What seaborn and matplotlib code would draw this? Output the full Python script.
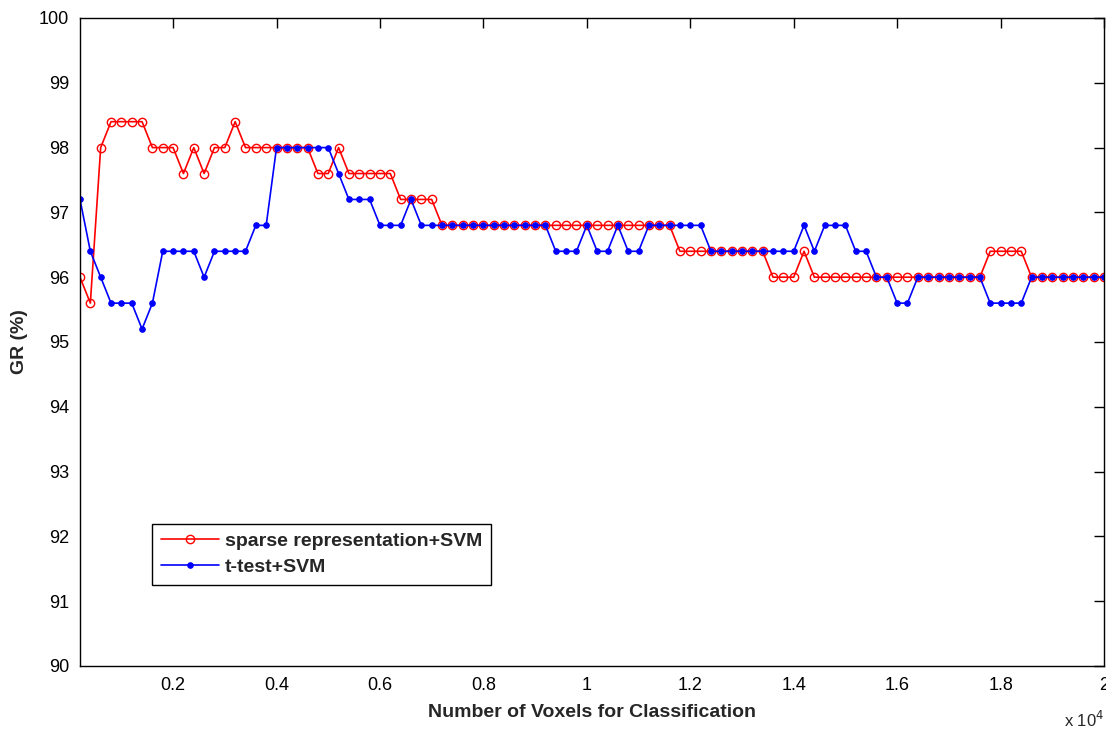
import numpy as np
import pandas as pd
import matplotlib
matplotlib.use("Agg")
import matplotlib.pyplot as plt
import seaborn as sns
from matplotlib import font_manager

# ---------------- data ----------------
voxels = np.arange(200, 20001, 200)  # x grid: 200 ... 20000

sparse_svm = [
    96.0, 95.6, 98.0, 98.4, 98.4, 98.4, 98.4, 98.0, 98.0, 98.0,
    97.6, 98.0, 97.6, 98.0, 98.0, 98.4, 98.0, 98.0, 98.0, 98.0,
    98.0, 98.0, 98.0, 97.6, 97.6, 98.0, 97.6, 97.6, 97.6, 97.6,
    97.6, 97.2, 97.2, 97.2, 97.2, 96.8, 96.8, 96.8, 96.8, 96.8,
    96.8, 96.8, 96.8, 96.8, 96.8, 96.8, 96.8, 96.8, 96.8, 96.8,
    96.8, 96.8, 96.8, 96.8, 96.8, 96.8, 96.8, 96.8, 96.4, 96.4,
    96.4, 96.4, 96.4, 96.4, 96.4, 96.4, 96.4, 96.0, 96.0, 96.0,
    96.4, 96.0, 96.0, 96.0, 96.0, 96.0, 96.0, 96.0, 96.0, 96.0,
    96.0, 96.0, 96.0, 96.0, 96.0, 96.0, 96.0, 96.0, 96.4, 96.4,
    96.4, 96.4, 96.0, 96.0, 96.0, 96.0, 96.0, 96.0, 96.0, 96.0,
]

ttest_svm = [
    97.2, 96.4, 96.0, 95.6, 95.6, 95.6, 95.2, 95.6, 96.4, 96.4,
    96.4, 96.4, 96.0, 96.4, 96.4, 96.4, 96.4, 96.8, 96.8, 98.0,
    98.0, 98.0, 98.0, 98.0, 98.0, 97.6, 97.2, 97.2, 97.2, 96.8,
    96.8, 96.8, 97.2, 96.8, 96.8, 96.8, 96.8, 96.8, 96.8, 96.8,
    96.8, 96.8, 96.8, 96.8, 96.8, 96.8, 96.4, 96.4, 96.4, 96.8,
    96.4, 96.4, 96.8, 96.4, 96.4, 96.8, 96.8, 96.8, 96.8, 96.8,
    96.8, 96.4, 96.4, 96.4, 96.4, 96.4, 96.4, 96.4, 96.4, 96.4,
    96.8, 96.4, 96.8, 96.8, 96.8, 96.4, 96.4, 96.0, 96.0, 95.6,
    95.6, 96.0, 96.0, 96.0, 96.0, 96.0, 96.0, 96.0, 95.6, 95.6,
    95.6, 95.6, 96.0, 96.0, 96.0, 96.0, 96.0, 96.0, 96.0, 96.0,
]

series_names = ["sparse representation+SVM", "t-test+SVM"]
x_ticks = [2000, 4000, 6000, 8000, 10000, 12000, 14000, 16000, 18000, 20000]
x_tick_labels = ["0.2", "0.4", "0.6", "0.8", "1", "1.2", "1.4", "1.6", "1.8", "2"]
y_ticks = [90, 91, 92, 93, 94, 95, 96, 97, 98, 99, 100]

# ---------------- style ----------------
sns.set_style("white")
avail = {f.name for f in font_manager.fontManager.ttflist}
narrow = "Liberation Sans Narrow" if "Liberation Sans Narrow" in avail else "Liberation Sans"
plt.rcParams["font.family"] = [narrow, "DejaVu Sans"]

fig = plt.figure(figsize=(11.06, 7.29), dpi=100)
ax = fig.add_axes([80 / 1106, 63 / 729, 1024 / 1106, 648 / 729])

sns.lineplot(x=voxels, y=sparse_svm, ax=ax, color="#ff0000", lw=1.2,
             marker="o", markersize=6, markerfacecolor="none",
             markeredgecolor="#ff0000", markeredgewidth=1.0,
             label=series_names[0])
sns.lineplot(x=voxels, y=ttest_svm, ax=ax, color="#0000ff", lw=1.2,
             marker="o", markersize=4, markerfacecolor="#0000ff",
             markeredgecolor="#0000ff", label=series_names[1])

ax.set_xlim(200, 20000)
ax.set_ylim(90, 100)
ax.set_xticks(x_ticks)
ax.set_xticklabels(x_tick_labels)
ax.set_yticks(y_ticks)
ax.tick_params(axis="both", direction="in", length=7, width=1.0,
               top=True, right=True, labelsize=13, colors="black", pad=8)
for s in ax.spines.values():
    s.set_visible(True)
    s.set_color("black")
    s.set_linewidth(1.0)

ax.set_xlabel("Number of Voxels for Classification", fontsize=14,
              fontweight="bold", labelpad=7)
ax.set_ylabel("GR (%)", fontsize=14, fontweight="bold", labelpad=8)

ax.text(1.0, -0.068, r"x 10$^4$", transform=ax.transAxes, ha="right",
        va="top", fontsize=12)

leg = ax.legend(loc="lower left", bbox_to_anchor=(0.0703, 0.125),
                borderaxespad=0.0,
                frameon=True, fancybox=False, edgecolor="black",
                framealpha=1.0, borderpad=0.45, handlelength=3.0,
                handletextpad=0.3, labelspacing=0.45,
                prop={"weight": "bold", "size": 14})
leg.get_frame().set_linewidth(1.0)

fig.savefig("out.png", dpi=100)
